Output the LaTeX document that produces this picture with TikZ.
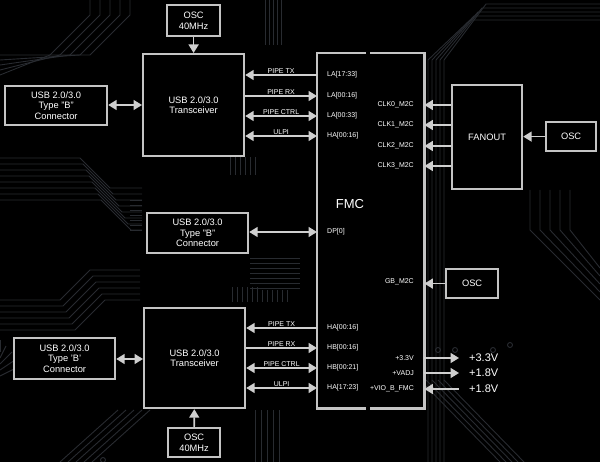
\documentclass[tikz,border=0pt]{standalone}
\usepackage{fontspec}
\setmainfont{Liberation Sans}
\usetikzlibrary{arrows.meta}
\definecolor{boxgray}{HTML}{C4C4C4}
\definecolor{arrgray}{HTML}{CFCFCF}
\definecolor{tracecol}{HTML}{282B30}
\begin{document}
\begin{tikzpicture}[x=1pt,y=-1pt,
  >={Triangle[width=10pt,length=8.5pt]},
  box/.style={draw=boxgray, line width=2.2pt, fill=black, text=white, align=center,
    font=\fontsize{9.3}{10.5}\selectfont, inner sep=0pt, anchor=north west},
  arr/.style={draw=arrgray, line width=1.6pt},
  sig/.style={text=white, font=\fontsize{7}{8}\selectfont, inner sep=1pt},
  pin/.style={text=white, font=\fontsize{7}{8}\selectfont, inner sep=0pt},
  volt/.style={text=white, font=\fontsize{11}{12}\selectfont, inner sep=0pt, inner xsep=10pt, anchor=west},
  trace/.style={draw=tracecol, line width=0.9pt}]
\fill[black] (0,0) rectangle (600,462);
\useasboundingbox (0,0) rectangle (600,462);

% ---------- background traces ----------
\foreach \k in {0,...,7}{
  \draw[trace] (0,158+6*\k) -- (80+3*\k,158+6*\k) -- (110+3*\k,188+6*\k) -- (142,188+6*\k);
}
\foreach \k in {0,...,5}{
  \draw[trace] (0,330-6*\k) -- (75-3*\k,330-6*\k) -- (105-3*\k,300-6*\k) -- (140,300-6*\k);
}
\foreach \k in {0,...,4}{
  \draw[trace] (0,352+6*\k) -- (0+6*\k,340+6*\k);
  \draw[trace] (60+8*\k,462) -- (118+8*\k,410);
}
\foreach \k in {0,...,5}{
  \draw[trace] (230+5*\k,157) -- (230+5*\k,175);
  \draw[trace] (232+5*\k,287) -- (232+5*\k,302);
  \draw[trace] (262+5*\k,290) -- (262+5*\k,302);
}
\foreach \k in {0,...,6}{
  \draw[trace] (250,258+5*\k) -- (300,258+5*\k);
  \draw[trace] (130,200+5*\k) -- (142,200+5*\k);
}
\foreach \k in {0,...,4}{
  \draw[trace] (428+4*\k,462) -- (428+4*\k,200) -- (428+4*\k,60) -- (470+4*\k,20-4*\k) -- (600,20-4*\k);
  \draw[trace] (500+6*\k,462) -- (420+6*\k,380);
  \draw[trace] (530+10*\k,190) -- (530+10*\k,230) -- (600,300-8*\k);
  \draw[trace] (130-10*\k,0) -- (130-10*\k,15) -- (90-10*\k,55) -- (0,55+5*\k);
  \draw[trace] (265+4*\k,0) -- (265+4*\k,45);
  \draw[trace] (255+6*\k,410) -- (255+6*\k,462);
}
\foreach \c in {(103,460),(340,300),(438,350),(455,350),(493,350),(510,345)}{
  \draw[trace] \c circle (2.5pt);
}

% ---------- coordinates for rows ----------
\coordinate (r1) at (0,75);  \coordinate (r2) at (0,96);
\coordinate (r3) at (0,116); \coordinate (r4) at (0,136);
\coordinate (s1) at (0,328); \coordinate (s2) at (0,348);
\coordinate (s3) at (0,368); \coordinate (s4) at (0,388);
\coordinate (c0) at (0,105); \coordinate (c1) at (0,125);
\coordinate (c2) at (0,146); \coordinate (c3) at (0,166);
\coordinate (dp) at (0,232); \coordinate (gb) at (0,282);
\coordinate (u1) at (0,105); \coordinate (u3) at (0,359);

% ---------- boxes ----------
\node[box, minimum width=53, minimum height=31] (osc1) at (166,4) {OSC\\40MHz};
\node[box, minimum width=101, minimum height=102] (trx1) at (142,53) {USB 2.0/3.0\\Transceiver};
\node[box, minimum width=102, minimum height=39] (conn1) at (4,85) {USB 2.0/3.0\\Type "B"\\Connector};
\node[box, minimum width=70, minimum height=104] (fanout) at (451,84) {FANOUT};
\node[box, minimum width=50, minimum height=29] (osc2) at (545,121) {OSC};
\node[box, minimum width=101, minimum height=40] (conn2) at (146,212) {USB 2.0/3.0\\Type "B"\\Connector};
\node[box, minimum width=52, minimum height=29] (osc3) at (445,268) {OSC};
\node[box, minimum width=101, minimum height=100] (trx2) at (143,307) {USB 2.0/3.0\\Transceiver};
\node[box, minimum width=101, minimum height=41] (conn3) at (13,337) {USB 2.0/3.0\\Type 'B'\\Connector};
\node[box, minimum width=52, minimum height=29] (osc4) at (167,427) {OSC\\40MHz};

% FMC box with small gaps at top and bottom
\node[anchor=north west, minimum width=107, minimum height=355, inner sep=0pt] (fmc) at (317,53) {};
\fill[black] (fmc.north west) rectangle (fmc.south east);
\draw[boxgray, line width=2.2pt] ([xshift=-4.5pt]fmc.north) -| (fmc.south west) -- ([xshift=-4.5pt]fmc.south);
\draw[boxgray, line width=2.2pt] ([xshift=-0.5pt]fmc.north) -| (fmc.south east) -- ([xshift=-0.5pt]fmc.south);
\node[text=white, font=\fontsize{13}{14}\selectfont, inner sep=0pt] (fmclabel) at (350,204) {FMC};

% ---------- FMC pin labels ----------
\node[pin, anchor=west] (la1) at (327,75) {LA[17:33]};
\node[pin, anchor=west] (la2) at (327,96) {LA[00:16]};
\node[pin, anchor=west] (la3) at (327,116) {LA[00:33]};
\node[pin, anchor=west] (ha1) at (327,136) {HA[00:16]};
\node[pin, anchor=west] (dpl) at (327,232) {DP[0]};
\node[pin, anchor=west] (hb1) at (327,328) {HA[00:16]};
\node[pin, anchor=west] (hb2) at (327,348) {HB[00:16]};
\node[pin, anchor=west] (hb3) at (327,368) {HB[00:21]};
\node[pin, anchor=west] (hb4) at (327,388) {HA[17:23]};
\node[pin, anchor=east] (k0) at (414,105) {CLK0\_M2C};
\node[pin, anchor=east] (k1) at (414,125) {CLK1\_M2C};
\node[pin, anchor=east] (k2) at (414,146) {CLK2\_M2C};
\node[pin, anchor=east] (k3) at (414,166) {CLK3\_M2C};
\node[pin, anchor=east] (gbl) at (414,282) {GB\_M2C};
\node[pin, anchor=east] (pv1) at (414,358) {+3.3V};
\node[pin, anchor=east] (pv2) at (414,373) {+VADJ};
\node[pin, anchor=east] (pv3) at (414,389) {+VIO\_B\_FMC};

% ---------- voltage outputs ----------
\node[volt] (v1) at (459,358) {+3.3V};
\node[volt] (v2) at (459,373) {+1.8V};
\node[volt] (v3) at (459,389) {+1.8V};

% ---------- connectors ----------
\draw[arr,->] (osc1) -- (trx1);
\draw[arr,->] (osc4) -- (trx2);
\draw[arr,<->] (conn1.east |- u1) -- (trx1.west |- u1);
\draw[arr,<->] (conn3.east |- u3) -- (trx2.west |- u3);
\draw[arr,<->] (conn2.east |- dp) -- (fmc.west |- dp);

\draw[arr,<-] (trx1.east |- r1) -- node[sig, above] {PIPE TX} (fmc.west |- r1);
\draw[arr,->] (trx1.east |- r2) -- node[sig, above] {PIPE RX} (fmc.west |- r2);
\draw[arr,<->] (trx1.east |- r3) -- node[sig, above] {PIPE CTRL} (fmc.west |- r3);
\draw[arr,<->] (trx1.east |- r4) -- node[sig, above] {ULPI} (fmc.west |- r4);

\draw[arr,<-] (trx2.east |- s1) -- node[sig, above] {PIPE TX} (fmc.west |- s1);
\draw[arr,->] (trx2.east |- s2) -- node[sig, above] {PIPE RX} (fmc.west |- s2);
\draw[arr,<->] (trx2.east |- s3) -- node[sig, above] {PIPE CTRL} (fmc.west |- s3);
\draw[arr,<->] (trx2.east |- s4) -- node[sig, above] {ULPI} (fmc.west |- s4);

\draw[arr,->] (fanout.west |- c0) -- (fmc.east |- c0);
\draw[arr,->] (fanout.west |- c1) -- (fmc.east |- c1);
\draw[arr,->] (fanout.west |- c2) -- (fmc.east |- c2);
\draw[arr,->] (fanout.west |- c3) -- (fmc.east |- c3);
\draw[arr,->] (osc2) -- (fanout.east |- osc2);
\draw[arr,->] (osc3) -- (fmc.east |- osc3);

\draw[arr,->] (fmc.east |- v1) -- (v1.west);
\draw[arr,->] (fmc.east |- v2) -- (v2.west);
\draw[arr,<-] (fmc.east |- v3) -- (v3.west);
\end{tikzpicture}
\end{document}
